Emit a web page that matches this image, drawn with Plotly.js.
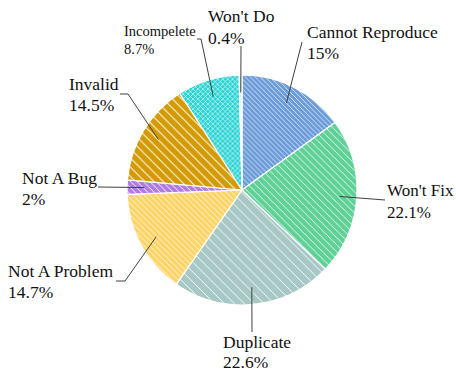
<!DOCTYPE html>
<html><head><meta charset="utf-8">
<script src="https://cdn.plot.ly/plotly-3.0.1.min.js"></script>
<style>html,body{margin:0;padding:0;background:#fff;}#chart{width:456px;height:373px;}</style>
</head><body><div id="chart"></div>
<script>
// Data
const categories = ["Cannot Reproduce", "Won't Fix", "Duplicate", "Not A Problem", "Not A Bug", "Invalid", "Incompelete", "Won't Do"];
const percents = [15, 22.1, 22.6, 14.7, 2, 14.5, 8.7, 0.4];
const pctLabels = ["15%", "22.1%", "22.6%", "14.7%", "2%", "14.5%", "8.7%", "0.4%"];

// Styles
const colors = ["#6b9bd8", "#5fd197", "#a8c8c6", "#ffd466", "#b07ce2", "#d39b00", "#2ad3d3", "#dadada"];
const shapes = ["\\", "\\", "\\", "\\", "\\", "\\", "x", "."];
const sizes = [3.5, 5, 7, 4, 4.5, 6.5, 3.5, 3];
const solid = [0.2, 0.16, 0.13, 0.2, 0.2, 0.15, 0.3, 0.4];
const fonts = [17.5, 17, 17.5, 17.5, 17.5, 17.5, 14.5, 17.5];
const FONT = 'Liberation Serif, Times New Roman, serif';

// Layout geometry (pixels)
const W = 456, H = 373;
const M = {l: 127, r: 99, t: 75, b: 68};
const pw = W - M.l - M.r, ph = H - M.t - M.b;
const cx = M.l + pw / 2, cy = M.t + ph / 2, R = Math.min(pw, ph) / 2;
// label text left x and first-line baseline (px), gap between baselines
const labelLeft = [306, 386, 222, 7, 21, 68, 123, 207];
const labelBase = [37, 195, 347, 276, 183, 89, 35, 21];
const lineGap = [21, 22, 20, 21, 21, 21, 18, 22];
// leader elbow points (px)
const elbow = [[302, 42], [385, 200], [252, 332], [125, 281], [98, 187], [128, 94], [201, 39], [241, 46]];
const elbowEnd = [null, null, null, [116, 281], null, [120, 94], [197, 39], null];

const px2x = p => (p - M.l) / pw;
const py2y = p => 1 - (p - M.t) / ph;

const total = percents.reduce((a, b) => a + b, 0);
let cum = 0;
const annotations = [], shapesArr = [];
categories.forEach((c, i) => {
  const mid = (cum + percents[i] / 2) / total * 2 * Math.PI;
  cum += percents[i];
  const ex = cx + 0.85 * R * Math.sin(mid), ey = cy - 0.85 * R * Math.cos(mid);
  let path = `M${px2x(ex)},${py2y(ey)} L${px2x(elbow[i][0])},${py2y(elbow[i][1])}`;
  if (elbowEnd[i]) path += ` L${px2x(elbowEnd[i][0])},${py2y(elbowEnd[i][1])}`;
  shapesArr.push({type: 'path', xref: 'paper', yref: 'paper', path: path,
    line: {color: '#404040', width: 1}});
  const fs = fonts[i];
  [c, pctLabels[i]].forEach((t, k) => {
    const base = labelBase[i] + k * lineGap[i];
    annotations.push({xref: 'paper', yref: 'paper', x: px2x(labelLeft[i] - 1), y: py2y(base - 0.891 * fs - 1),
      xanchor: 'left', yanchor: 'top', align: 'left', showarrow: false, text: t,
      font: {family: FONT, size: fs, color: '#111'}});
  });
});

const trace = {
  type: 'pie', labels: categories, values: percents, sort: false, direction: 'clockwise', rotation: 0,
  textinfo: 'none', hoverinfo: 'label+percent',
  marker: {colors: colors, line: {color: '#ffffff', width: 1.2},
    pattern: {shape: shapes, bgcolor: colors, fgcolor: '#ffffff', size: sizes, solidity: solid, fillmode: 'replace'}},
  showlegend: false
};

Plotly.newPlot('chart', [trace], {
  width: W, height: H, margin: M, paper_bgcolor: '#fff', plot_bgcolor: '#fff',
  font: {family: FONT},
  showlegend: false, annotations: annotations, shapes: shapesArr
}, {displayModeBar: false, staticPlot: true});
</script></body></html>
